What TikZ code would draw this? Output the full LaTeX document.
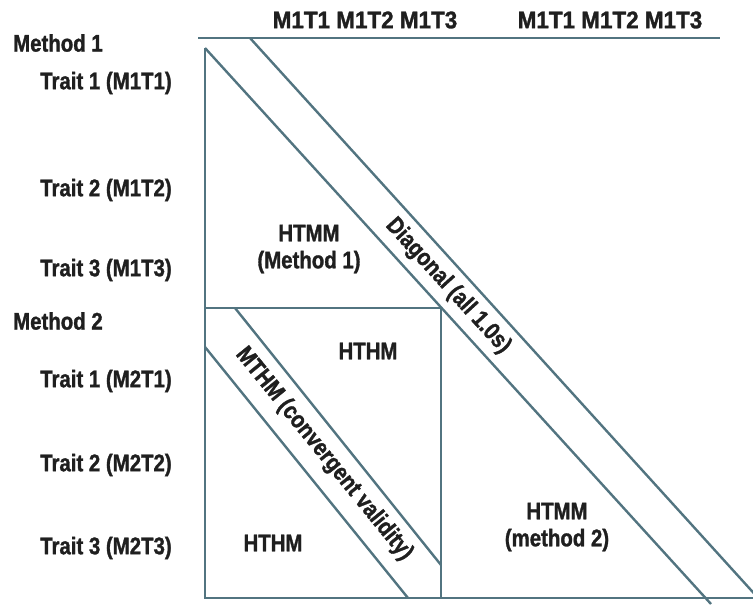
\documentclass[tikz,border=0pt]{standalone}
\usepackage{graphicx}
\usepackage{fontspec}
\setmainfont{Liberation Sans}[
  FakeStretch=0.85,
  BoldFont={Liberation Sans Bold},
  BoldFeatures={FakeStretch=0.85,FakeBold=1.3}]
\begin{document}
\begin{tikzpicture}[x=1pt,y=-1pt,
  rule/.style={draw=linecol,line width=2.4pt},
  lbl/.style={font=\fontsize{24}{27}\selectfont\bfseries,text=black!88,inner sep=0pt},
  rowlbl/.style={lbl,anchor=west},
  cell/.style={lbl,align=center}]
\definecolor{linecol}{RGB}{82,116,128}
\useasboundingbox (0,0) rectangle (753,605);
\clip (0,0) rectangle (753,605);

% frame of the matrix
\coordinate (tl) at (198,38);
\coordinate (tr) at (720,38);
\coordinate (corner) at (205,48);
\coordinate (bl) at (205,598);
\coordinate (br) at (753,598);
\draw[rule] (tl) -- (tr);
\draw[rule] (corner) -- (bl);
\draw[rule] (bl) -- (br);

% diagonal band
\coordinate (d1a) at (205,48);
\coordinate (d1b) at (711,604);
\coordinate (d2a) at (250,38);
\coordinate (d2b) at (760,600);
\draw[rule] (d1a) -- (d1b);
\draw[rule] (d2a) -- (d2b);

% method 2 block
\coordinate (bx1) at (205,308);
\coordinate (bx2) at (441,598);
\draw[rule] (bx1) rectangle (bx2);

% convergent validity band
\coordinate (m1a) at (235,308);
\coordinate (m1b) at (441,565);
\coordinate (m2a) at (205,347);
\coordinate (m2b) at (408,598);
\draw[rule] (m1a) -- (m1b);
\draw[rule] (m2a) -- (m2b);

% column headings
\node[lbl] (c1) at (365,20) {\scalebox{1.1}[1]{M1T1 M1T2 M1T3}};
\node[lbl] (c2) at (610,20) {\scalebox{1.1}[1]{M1T1 M1T2 M1T3}};

% row headings
\node[rowlbl] (m1) at (13,43) {Method 1};
\node[rowlbl] (r1) at (40,83) {Trait 1 (M1T1)};
\node[rowlbl] (r2) at (40,190) {Trait 2 (M1T2)};
\node[rowlbl] (r3) at (40,270) {Trait 3 (M1T3)};
\node[rowlbl] (m2) at (13,321) {Method 2};
\node[rowlbl] (r4) at (40,381) {Trait 1 (M2T1)};
\node[rowlbl] (r5) at (40,465) {Trait 2 (M2T2)};
\node[rowlbl] (r6) at (40,548) {Trait 3 (M2T3)};

% block labels
\node[cell] (htmm1) at (309,249) {HTMM\\(Method 1)};
\node[cell] (hthm1) at (368,351) {HTHM};
\node[cell] (hthm2) at (273,543) {HTHM};
\node[cell] (htmm2) at (557,527) {HTMM\\(method 2)};
\node[lbl,rotate=-47.7] (diag) at (448,286) {Diagonal (all 1.0s)};
\node[lbl,rotate=-50.9] (mthm) at (324,454) {MTHM (convergent validity)};
\end{tikzpicture}
\end{document}
